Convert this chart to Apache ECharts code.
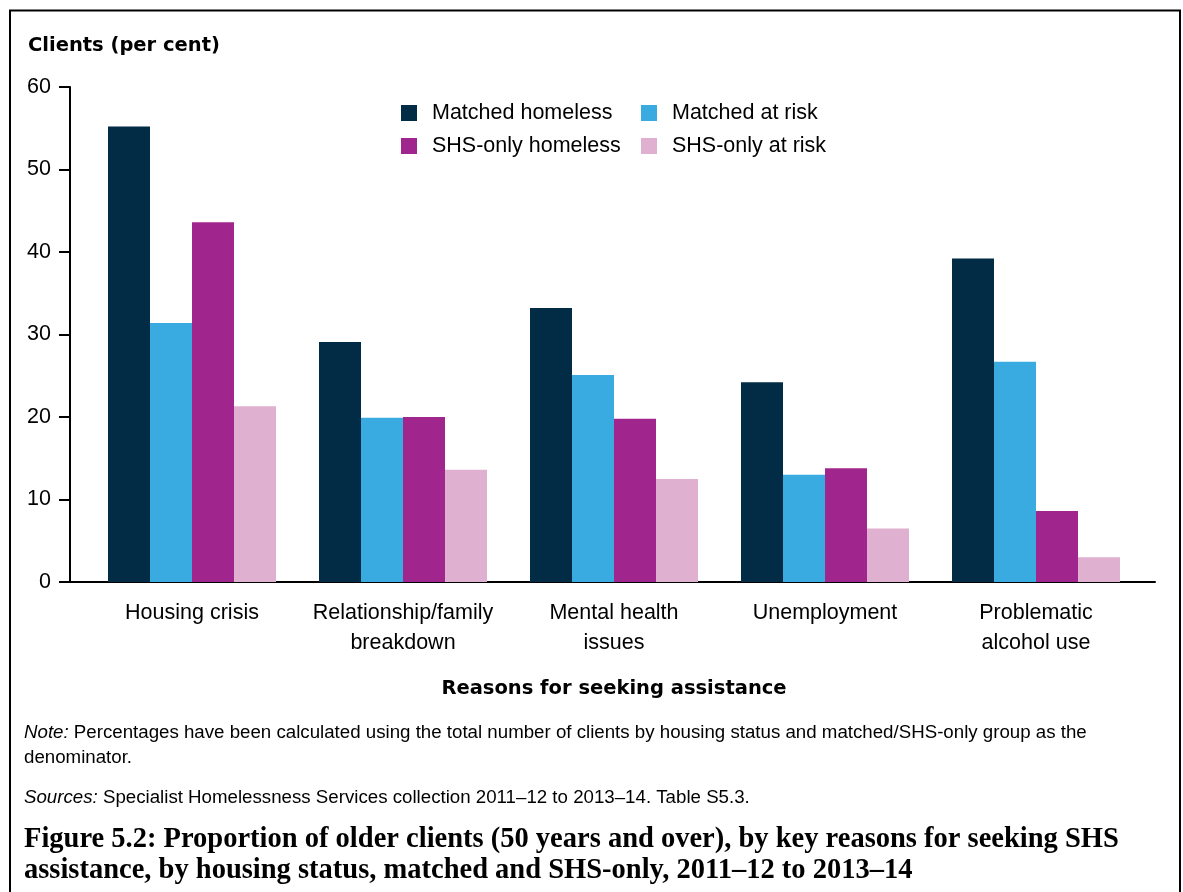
<!DOCTYPE html>
<html><head><meta charset="utf-8">
<script src="https://cdn.jsdelivr.net/npm/echarts@6/dist/echarts.min.js"></script>
<style>html,body{margin:0;padding:0;background:#fff}#c{width:1183px;height:892px}</style>
</head><body><div id="c"></div>
<script>
const categories = ['Housing crisis', 'Relationship/family\nbreakdown', 'Mental health\nissues', 'Unemployment', 'Problematic\nalcohol use'];
const seriesNames = ['Matched homeless', 'Matched at risk', 'SHS-only homeless', 'SHS-only at risk'];
const matchedHomeless = [55.2, 29.1, 33.2, 24.2, 39.2];
const matchedAtRisk = [31.4, 19.9, 25.1, 13.0, 26.7];
const shsOnlyHomeless = [43.6, 20.0, 19.8, 13.8, 8.6];
const shsOnlyAtRisk = [21.3, 13.6, 12.5, 6.5, 3.0];
const yMin = 0, yMax = 60, yInterval = 10;
const colors = ['#022c45', '#3aabe0', '#a0258c', '#e0b0d0'];
const yTitle = 'Clients (per cent)';
const xTitle = 'Reasons for seeking assistance';
const noteText = '{i|Note:} Percentages have been calculated using the total number of clients by housing status and matched/SHS-only group as the\ndenominator.';
const sourceText = '{i|Sources:} Specialist Homelessness Services collection 2011\u201312 to 2013\u201314. Table S5.3.';
const captionText = 'Figure 5.2: Proportion of older clients (50 years and over), by key reasons for seeking SHS\nassistance, by housing status, matched and SHS-only, 2011\u201312 to 2013\u201314';

const seriesData = [matchedHomeless, matchedAtRisk, shsOnlyHomeless, shsOnlyAtRisk];
const SANS = '"Liberation Sans", Arial, sans-serif';
const chart = echarts.init(document.getElementById('c'), null, {renderer: 'canvas'});
const legendText = {fontSize: 21.5, lineHeight: 22, padding: [0, 0, 0, 10], color: '#000', fontFamily: SANS};
const NOTE_FS = 18.7;
chart.setOption({
  animation: false,
  backgroundColor: '#fff',
  textStyle: {fontFamily: SANS, color: '#000'},
  title: [
    {text: yTitle, left: 28, top: 36, padding: 0,
     textStyle: {fontFamily: '"DejaVu Sans", sans-serif', fontWeight: 'bold', fontSize: 19.5, color: '#000'}},
    {text: noteText, left: 24, top: 720.5, padding: 0,
     textStyle: {fontFamily: SANS, fontWeight: 'normal', fontSize: NOTE_FS, lineHeight: 25, color: '#000',
       rich: {i: {fontStyle: 'italic', fontSize: NOTE_FS, lineHeight: 25, fontFamily: SANS, color: '#000'}}}},
    {text: sourceText, left: 24, top: 785.5, padding: 0,
     textStyle: {fontFamily: SANS, fontWeight: 'normal', fontSize: NOTE_FS, lineHeight: 25, color: '#000',
       rich: {i: {fontStyle: 'italic', fontSize: NOTE_FS, lineHeight: 25, fontFamily: SANS, color: '#000'}}}},
    {text: captionText, left: 24, top: 824.5, padding: 0,
     textStyle: {fontFamily: '"Liberation Serif", serif', fontWeight: 'bold', fontSize: 28.5, lineHeight: 31, color: '#000'}}
  ],
  legend: [
    {data: [seriesNames[0], seriesNames[2]], orient: 'vertical', left: 401, top: 102, padding: 0,
     itemWidth: 16, itemHeight: 16, itemGap: 11, icon: 'rect', textStyle: legendText},
    {data: [seriesNames[1], seriesNames[3]], orient: 'vertical', left: 641, top: 102, padding: 0,
     itemWidth: 16, itemHeight: 16, itemGap: 11, icon: 'rect', textStyle: legendText}
  ],
  grid: [
    {left: 86.5, right: 41.5, top: 87, bottom: 310, containLabel: false},
    {left: 70, right: 28, top: 87, bottom: 310, containLabel: false}
  ],
  xAxis: [
    {gridIndex: 0, type: 'category', data: categories,
     axisLine: {show: false}, axisTick: {show: false},
     axisLabel: {fontSize: 21.5, lineHeight: 30, margin: 16, color: '#000', fontFamily: SANS, interval: 0},
     name: xTitle, nameLocation: 'middle', nameGap: 97,
     nameTextStyle: {fontFamily: '"DejaVu Sans", sans-serif', fontWeight: 'bold', fontSize: 19.5, color: '#000'}},
    {gridIndex: 1, type: 'category', data: [''],
     axisLine: {show: true, onZero: false, lineStyle: {color: '#000', width: 2}},
     axisTick: {show: false}, axisLabel: {show: false}}
  ],
  yAxis: [
    {gridIndex: 0, type: 'value', min: yMin, max: yMax, interval: yInterval, offset: 16.5,
     axisLine: {show: true, lineStyle: {color: '#000', width: 2}},
     axisTick: {show: true, length: 11, lineStyle: {color: '#000', width: 2}},
     axisLabel: {fontSize: 21.5, margin: 19, color: '#000', fontFamily: SANS},
     splitLine: {show: false}},
    {gridIndex: 1, type: 'value', show: false, min: 0, max: 1}
  ],
  graphic: [
    {type: 'rect', silent: true, z: 100, shape: {x: 10, y: 10.5, width: 1170, height: 900},
     style: {fill: 'none', stroke: '#000', lineWidth: 2}}
  ],
  series: seriesNames.map((n, i) => ({
    name: n, type: 'bar', xAxisIndex: 0, yAxisIndex: 0,
    data: seriesData[i], barWidth: 42, barGap: '0%',
    itemStyle: {color: colors[i]}
  }))
});
</script></body></html>
